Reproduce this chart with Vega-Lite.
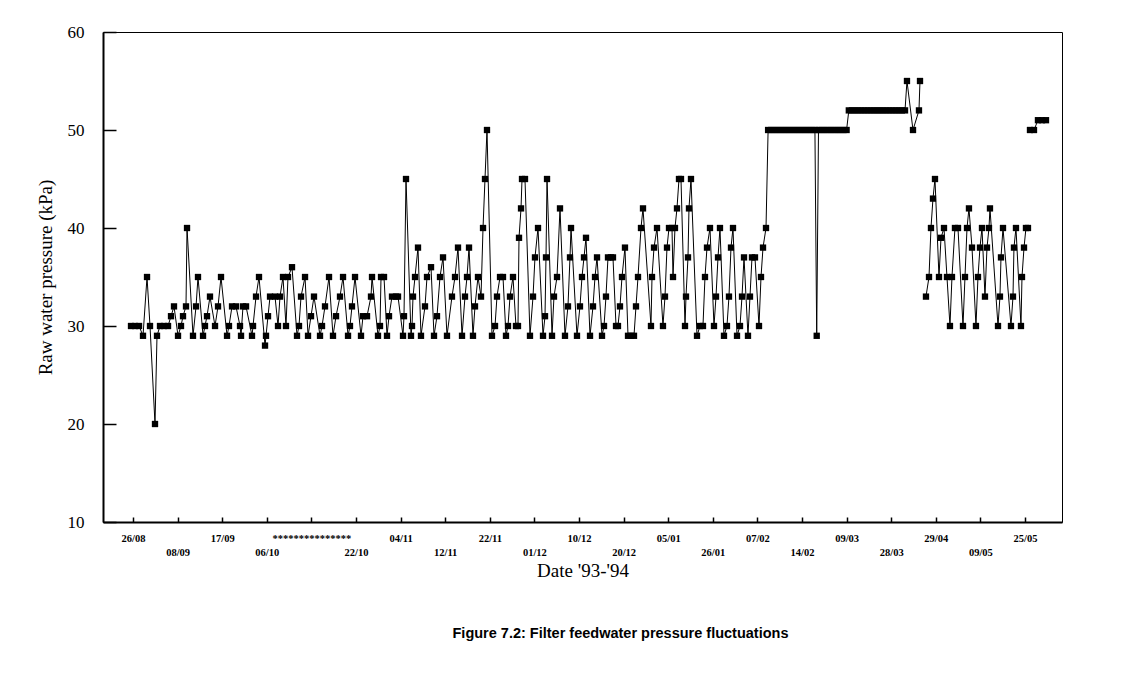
{
  "$schema": "https://vega.github.io/schema/vega-lite/v6.json",
  "width": 959,
  "height": 490,
  "autosize": {"type": "none"},
  "padding": {"left": 103, "top": 32, "right": 76, "bottom": 151},
  "background": "white",
  "config": {"view": {"stroke": "black", "strokeWidth": 1}, "font": "Liberation Serif"},
  "title": {"text": "Figure 7.2: Filter feedwater pressure fluctuations", "orient": "bottom", "anchor": "middle", "font": "Liberation Sans", "fontSize": 14.5, "fontWeight": "bold", "color": "black", "offset": 46, "dx": 38},
  "data": {"values": [
    {"t": -0.45, "p": 30, "s": "A"}, {"t": 0.45, "p": 30, "s": "A"}, {"t": 1.35, "p": 30, "s": "A"}, {"t": 2.24, "p": 29, "s": "A"}, {"t": 3.14, "p": 35, "s": "A"}, {"t": 3.81, "p": 30, "s": "A"}, {"t": 4.93, "p": 20, "s": "A"}, {"t": 5.38, "p": 29, "s": "A"}, {"t": 6.05, "p": 30, "s": "A"}, {"t": 6.95, "p": 30, "s": "A"}, {"t": 7.85, "p": 30, "s": "A"}, {"t": 8.52, "p": 31, "s": "A"}, {"t": 9.19, "p": 32, "s": "A"}, {"t": 10.09, "p": 29, "s": "A"}, {"t": 10.76, "p": 30, "s": "A"}, {"t": 11.21, "p": 31, "s": "A"}, {"t": 11.88, "p": 32, "s": "A"}, {"t": 12.11, "p": 40, "s": "A"}, {"t": 13.45, "p": 29, "s": "A"}, {"t": 14.13, "p": 32, "s": "A"}, {"t": 14.57, "p": 35, "s": "A"}, {"t": 15.7, "p": 29, "s": "A"}, {"t": 16.14, "p": 30, "s": "A"}, {"t": 16.59, "p": 31, "s": "A"}, {"t": 17.26, "p": 33, "s": "A"}, {"t": 18.39, "p": 30, "s": "A"}, {"t": 19.06, "p": 32, "s": "A"}, {"t": 19.73, "p": 35, "s": "A"}, {"t": 21.08, "p": 29, "s": "A"}, {"t": 21.52, "p": 30, "s": "A"}, {"t": 22.2, "p": 32, "s": "A"}, {"t": 23.09, "p": 32, "s": "A"}, {"t": 23.99, "p": 30, "s": "A"}, {"t": 24.22, "p": 29, "s": "A"}, {"t": 24.66, "p": 32, "s": "A"}, {"t": 25.34, "p": 32, "s": "A"}, {"t": 26.68, "p": 29, "s": "A"}, {"t": 26.91, "p": 30, "s": "A"}, {"t": 27.58, "p": 33, "s": "A"}, {"t": 28.25, "p": 35, "s": "A"}, {"t": 29.6, "p": 28, "s": "A"}, {"t": 29.82, "p": 29, "s": "A"}, {"t": 30.27, "p": 31, "s": "A"}, {"t": 30.72, "p": 33, "s": "A"}, {"t": 31.84, "p": 33, "s": "A"}, {"t": 32.51, "p": 30, "s": "A"}, {"t": 32.96, "p": 33, "s": "A"}, {"t": 33.63, "p": 35, "s": "A"}, {"t": 34.3, "p": 30, "s": "A"}, {"t": 34.75, "p": 35, "s": "A"}, {"t": 35.65, "p": 36, "s": "A"}, {"t": 36.77, "p": 29, "s": "A"}, {"t": 37.22, "p": 30, "s": "A"}, {"t": 37.67, "p": 33, "s": "A"}, {"t": 38.57, "p": 35, "s": "A"}, {"t": 39.24, "p": 29, "s": "A"}, {"t": 39.91, "p": 31, "s": "A"}, {"t": 40.58, "p": 33, "s": "A"}, {"t": 41.93, "p": 29, "s": "A"}, {"t": 42.38, "p": 30, "s": "A"}, {"t": 43.05, "p": 32, "s": "A"}, {"t": 43.95, "p": 35, "s": "A"}, {"t": 44.84, "p": 29, "s": "A"}, {"t": 45.52, "p": 31, "s": "A"}, {"t": 46.41, "p": 33, "s": "A"}, {"t": 47.09, "p": 35, "s": "A"}, {"t": 48.21, "p": 29, "s": "A"}, {"t": 48.65, "p": 30, "s": "A"}, {"t": 49.1, "p": 32, "s": "A"}, {"t": 49.78, "p": 35, "s": "A"}, {"t": 51.12, "p": 29, "s": "A"}, {"t": 51.57, "p": 31, "s": "A"}, {"t": 52.47, "p": 31, "s": "A"}, {"t": 53.36, "p": 33, "s": "A"}, {"t": 53.59, "p": 35, "s": "A"}, {"t": 54.93, "p": 29, "s": "A"}, {"t": 55.38, "p": 30, "s": "A"}, {"t": 55.61, "p": 35, "s": "A"}, {"t": 56.28, "p": 35, "s": "A"}, {"t": 56.95, "p": 29, "s": "A"}, {"t": 57.4, "p": 31, "s": "A"}, {"t": 58.07, "p": 33, "s": "A"}, {"t": 58.97, "p": 33, "s": "A"}, {"t": 59.42, "p": 33, "s": "A"}, {"t": 60.54, "p": 29, "s": "A"}, {"t": 60.76, "p": 31, "s": "A"}, {"t": 61.21, "p": 45, "s": "A"}, {"t": 62.33, "p": 29, "s": "A"}, {"t": 62.56, "p": 30, "s": "A"}, {"t": 62.78, "p": 33, "s": "A"}, {"t": 63.23, "p": 35, "s": "A"}, {"t": 63.9, "p": 38, "s": "A"}, {"t": 64.57, "p": 29, "s": "A"}, {"t": 65.47, "p": 32, "s": "A"}, {"t": 65.92, "p": 35, "s": "A"}, {"t": 66.82, "p": 36, "s": "A"}, {"t": 67.49, "p": 29, "s": "A"}, {"t": 68.16, "p": 31, "s": "A"}, {"t": 68.83, "p": 35, "s": "A"}, {"t": 69.51, "p": 37, "s": "A"}, {"t": 70.4, "p": 29, "s": "A"}, {"t": 71.52, "p": 33, "s": "A"}, {"t": 72.2, "p": 35, "s": "A"}, {"t": 72.87, "p": 38, "s": "A"}, {"t": 73.77, "p": 29, "s": "A"}, {"t": 74.44, "p": 33, "s": "A"}, {"t": 74.89, "p": 35, "s": "A"}, {"t": 75.34, "p": 38, "s": "A"}, {"t": 76.23, "p": 29, "s": "A"}, {"t": 76.68, "p": 32, "s": "A"}, {"t": 77.35, "p": 35, "s": "A"}, {"t": 78.03, "p": 33, "s": "A"}, {"t": 78.48, "p": 40, "s": "A"}, {"t": 78.92, "p": 45, "s": "A"}, {"t": 79.37, "p": 50, "s": "A"}, {"t": 80.49, "p": 29, "s": "A"}, {"t": 81.17, "p": 30, "s": "A"}, {"t": 81.61, "p": 33, "s": "A"}, {"t": 82.29, "p": 35, "s": "A"}, {"t": 82.96, "p": 35, "s": "A"}, {"t": 83.63, "p": 29, "s": "A"}, {"t": 84.08, "p": 30, "s": "A"}, {"t": 84.53, "p": 33, "s": "A"}, {"t": 85.2, "p": 35, "s": "A"}, {"t": 85.87, "p": 30, "s": "A"}, {"t": 86.32, "p": 30, "s": "A"}, {"t": 86.55, "p": 39, "s": "A"}, {"t": 87.0, "p": 42, "s": "A"}, {"t": 87.22, "p": 45, "s": "A"}, {"t": 87.89, "p": 45, "s": "A"}, {"t": 89.01, "p": 29, "s": "A"}, {"t": 89.69, "p": 33, "s": "A"}, {"t": 90.13, "p": 37, "s": "A"}, {"t": 90.81, "p": 40, "s": "A"}, {"t": 91.93, "p": 29, "s": "A"}, {"t": 92.38, "p": 31, "s": "A"}, {"t": 92.6, "p": 37, "s": "A"}, {"t": 92.83, "p": 45, "s": "A"}, {"t": 93.95, "p": 29, "s": "A"}, {"t": 94.39, "p": 33, "s": "A"}, {"t": 95.07, "p": 35, "s": "A"}, {"t": 95.74, "p": 42, "s": "A"}, {"t": 96.86, "p": 29, "s": "A"}, {"t": 97.53, "p": 32, "s": "A"}, {"t": 97.98, "p": 37, "s": "A"}, {"t": 98.21, "p": 40, "s": "A"}, {"t": 99.55, "p": 29, "s": "A"}, {"t": 100.22, "p": 32, "s": "A"}, {"t": 100.67, "p": 35, "s": "A"}, {"t": 101.12, "p": 37, "s": "A"}, {"t": 101.57, "p": 39, "s": "A"}, {"t": 102.47, "p": 29, "s": "A"}, {"t": 103.14, "p": 32, "s": "A"}, {"t": 103.59, "p": 35, "s": "A"}, {"t": 104.04, "p": 37, "s": "A"}, {"t": 105.16, "p": 29, "s": "A"}, {"t": 105.61, "p": 30, "s": "A"}, {"t": 106.05, "p": 33, "s": "A"}, {"t": 106.5, "p": 37, "s": "A"}, {"t": 107.17, "p": 37, "s": "A"}, {"t": 107.62, "p": 37, "s": "A"}, {"t": 108.3, "p": 30, "s": "A"}, {"t": 108.74, "p": 30, "s": "A"}, {"t": 109.19, "p": 32, "s": "A"}, {"t": 109.64, "p": 35, "s": "A"}, {"t": 110.31, "p": 38, "s": "A"}, {"t": 110.99, "p": 29, "s": "A"}, {"t": 111.66, "p": 29, "s": "A"}, {"t": 112.33, "p": 29, "s": "A"}, {"t": 112.78, "p": 32, "s": "A"}, {"t": 113.23, "p": 35, "s": "A"}, {"t": 113.9, "p": 40, "s": "A"}, {"t": 114.35, "p": 42, "s": "A"}, {"t": 116.14, "p": 30, "s": "A"}, {"t": 116.37, "p": 35, "s": "A"}, {"t": 116.82, "p": 38, "s": "A"}, {"t": 117.49, "p": 40, "s": "A"}, {"t": 118.83, "p": 30, "s": "A"}, {"t": 119.28, "p": 33, "s": "A"}, {"t": 119.73, "p": 38, "s": "A"}, {"t": 120.18, "p": 40, "s": "A"}, {"t": 120.85, "p": 40, "s": "A"}, {"t": 121.08, "p": 35, "s": "A"}, {"t": 121.52, "p": 40, "s": "A"}, {"t": 121.97, "p": 42, "s": "A"}, {"t": 122.42, "p": 45, "s": "A"}, {"t": 122.87, "p": 45, "s": "A"}, {"t": 123.77, "p": 30, "s": "A"}, {"t": 123.99, "p": 33, "s": "A"}, {"t": 124.44, "p": 37, "s": "A"}, {"t": 124.66, "p": 42, "s": "A"}, {"t": 125.11, "p": 45, "s": "A"}, {"t": 126.46, "p": 29, "s": "A"}, {"t": 127.13, "p": 30, "s": "A"}, {"t": 127.8, "p": 30, "s": "A"}, {"t": 128.25, "p": 35, "s": "A"}, {"t": 128.7, "p": 38, "s": "A"}, {"t": 129.37, "p": 40, "s": "A"}, {"t": 130.27, "p": 30, "s": "A"}, {"t": 130.72, "p": 33, "s": "A"}, {"t": 131.17, "p": 37, "s": "A"}, {"t": 131.61, "p": 40, "s": "A"}, {"t": 132.51, "p": 29, "s": "A"}, {"t": 133.18, "p": 30, "s": "A"}, {"t": 133.63, "p": 33, "s": "A"}, {"t": 134.08, "p": 38, "s": "A"}, {"t": 134.53, "p": 40, "s": "A"}, {"t": 135.43, "p": 29, "s": "A"}, {"t": 136.1, "p": 30, "s": "A"}, {"t": 136.55, "p": 33, "s": "A"}, {"t": 137.0, "p": 37, "s": "A"}, {"t": 137.89, "p": 29, "s": "A"}, {"t": 138.34, "p": 33, "s": "A"}, {"t": 138.79, "p": 37, "s": "A"}, {"t": 139.46, "p": 37, "s": "A"}, {"t": 140.36, "p": 30, "s": "A"}, {"t": 140.81, "p": 35, "s": "A"}, {"t": 141.26, "p": 38, "s": "A"}, {"t": 141.93, "p": 40, "s": "A"},
    {"t": 142.4, "p": 50, "s": "A"}, {"t": 143.1, "p": 50, "s": "A"}, {"t": 143.8, "p": 50, "s": "A"}, {"t": 144.5, "p": 50, "s": "A"}, {"t": 145.2, "p": 50, "s": "A"}, {"t": 145.9, "p": 50, "s": "A"}, {"t": 146.6, "p": 50, "s": "A"}, {"t": 147.3, "p": 50, "s": "A"}, {"t": 148.0, "p": 50, "s": "A"}, {"t": 148.7, "p": 50, "s": "A"}, {"t": 149.4, "p": 50, "s": "A"}, {"t": 150.1, "p": 50, "s": "A"}, {"t": 150.8, "p": 50, "s": "A"}, {"t": 151.5, "p": 50, "s": "A"}, {"t": 152.2, "p": 50, "s": "A"}, {"t": 152.9, "p": 50, "s": "A"}, {"t": 153.3, "p": 29, "s": "A"}, {"t": 153.7, "p": 50, "s": "A"}, {"t": 154.4, "p": 50, "s": "A"}, {"t": 155.1, "p": 50, "s": "A"}, {"t": 155.8, "p": 50, "s": "A"}, {"t": 156.5, "p": 50, "s": "A"}, {"t": 157.2, "p": 50, "s": "A"}, {"t": 157.9, "p": 50, "s": "A"}, {"t": 158.6, "p": 50, "s": "A"}, {"t": 159.3, "p": 50, "s": "A"}, {"t": 160.0, "p": 50, "s": "A"},
    {"t": 160.5, "p": 52, "s": "A"}, {"t": 161.2, "p": 52, "s": "A"}, {"t": 161.9, "p": 52, "s": "A"}, {"t": 162.6, "p": 52, "s": "A"}, {"t": 163.3, "p": 52, "s": "A"}, {"t": 164.0, "p": 52, "s": "A"}, {"t": 164.7, "p": 52, "s": "A"}, {"t": 165.4, "p": 52, "s": "A"}, {"t": 166.1, "p": 52, "s": "A"}, {"t": 166.8, "p": 52, "s": "A"}, {"t": 167.5, "p": 52, "s": "A"}, {"t": 168.2, "p": 52, "s": "A"}, {"t": 168.9, "p": 52, "s": "A"}, {"t": 169.6, "p": 52, "s": "A"}, {"t": 170.3, "p": 52, "s": "A"}, {"t": 171.0, "p": 52, "s": "A"}, {"t": 171.7, "p": 52, "s": "A"}, {"t": 172.4, "p": 52, "s": "A"}, {"t": 173.1, "p": 52, "s": "A"}, {"t": 173.54, "p": 55, "s": "A"}, {"t": 174.89, "p": 50, "s": "A"}, {"t": 176.23, "p": 52, "s": "A"}, {"t": 176.46, "p": 55, "s": "A"},
    {"t": 177.8, "p": 33, "s": "B"}, {"t": 178.48, "p": 35, "s": "B"}, {"t": 178.92, "p": 40, "s": "B"}, {"t": 179.37, "p": 43, "s": "B"}, {"t": 179.82, "p": 45, "s": "B"}, {"t": 180.72, "p": 35, "s": "B"}, {"t": 181.17, "p": 39, "s": "B"}, {"t": 181.84, "p": 40, "s": "B"}, {"t": 182.51, "p": 35, "s": "B"}, {"t": 183.18, "p": 30, "s": "B"}, {"t": 183.63, "p": 35, "s": "B"}, {"t": 184.3, "p": 40, "s": "B"}, {"t": 184.98, "p": 40, "s": "B"}, {"t": 186.1, "p": 30, "s": "B"}, {"t": 186.55, "p": 35, "s": "B"}, {"t": 187.0, "p": 40, "s": "B"}, {"t": 187.44, "p": 42, "s": "B"}, {"t": 188.12, "p": 38, "s": "B"}, {"t": 189.01, "p": 30, "s": "B"}, {"t": 189.46, "p": 35, "s": "B"}, {"t": 189.91, "p": 38, "s": "B"}, {"t": 190.36, "p": 40, "s": "B"}, {"t": 191.03, "p": 33, "s": "B"}, {"t": 191.48, "p": 38, "s": "B"}, {"t": 191.93, "p": 40, "s": "B"}, {"t": 192.15, "p": 42, "s": "B"}, {"t": 193.95, "p": 30, "s": "B"}, {"t": 194.39, "p": 33, "s": "B"}, {"t": 194.62, "p": 37, "s": "B"}, {"t": 195.07, "p": 40, "s": "B"}, {"t": 196.86, "p": 30, "s": "B"}, {"t": 197.31, "p": 33, "s": "B"}, {"t": 197.53, "p": 38, "s": "B"}, {"t": 197.98, "p": 40, "s": "B"}, {"t": 199.1, "p": 30, "s": "B"}, {"t": 199.33, "p": 35, "s": "B"}, {"t": 199.78, "p": 38, "s": "B"}, {"t": 200.22, "p": 40, "s": "B"}, {"t": 200.67, "p": 40, "s": "B"},
    {"t": 201.12, "p": 50, "s": "C"}, {"t": 202.02, "p": 50, "s": "C"}, {"t": 202.91, "p": 51, "s": "C"}, {"t": 203.81, "p": 51, "s": "C"}, {"t": 204.71, "p": 51, "s": "C"}
  ]},
  "mark": {"type": "line", "color": "black", "strokeWidth": 1, "point": {"shape": "square", "size": 40, "filled": true, "color": "black", "opacity": 1}},
  "encoding": {
    "x": {"field": "t", "type": "quantitative", "scale": {"domain": [-6.73, 208.3], "nice": false, "zero": false},
      "axis": {"title": "Date '93-'94", "titleFont": "Liberation Serif", "titleFontSize": 19, "titleFontWeight": "normal", "titleColor": "black", "titlePadding": 4,
        "values": [0, 10, 20, 30, 40, 50, 60, 70, 80, 90, 100, 110, 120, 130, 140, 150, 160, 170, 180, 190, 200],
        "labelExpr": "(round(datum.value/10)%2) ? ['', ['26/08','08/09','17/09','06/10','***************','22/10','04/11','12/11','22/11','01/12','10/12','20/12','05/01','26/01','07/02','14/02','09/03','28/03','29/04','09/05','25/05'][round(datum.value/10)]] : ['26/08','08/09','17/09','06/10','***************','22/10','04/11','12/11','22/11','01/12','10/12','20/12','05/01','26/01','07/02','14/02','09/03','28/03','29/04','09/05','25/05'][round(datum.value/10)]",
        "labelFont": "Liberation Serif", "labelFontSize": 10.5, "labelFontWeight": "bold", "labelColor": "black", "labelPadding": 16, "labelLineHeight": 14, "labelOverlap": false, "labelBound": false, "labelFlush": false,
        "tickSize": -5, "tickColor": "black", "tickWidth": 1.5, "domainColor": "black", "domainWidth": 2, "grid": false}},
    "y": {"field": "p", "type": "quantitative", "scale": {"domain": [10, 60], "nice": false, "zero": false},
      "axis": {"title": "Raw water pressure (kPa)", "titleFont": "Liberation Serif", "titleFontSize": 19, "titleFontWeight": "normal", "titleColor": "black", "titlePadding": 12,
        "values": [10, 20, 30, 40, 50, 60], "labelFont": "Liberation Serif", "labelFontSize": 17, "labelColor": "black", "labelPadding": 32,
        "tickSize": -13, "tickColor": "black", "tickWidth": 1.5, "domainColor": "black", "domainWidth": 2, "grid": false}},
    "detail": {"field": "s"}
  }
}
